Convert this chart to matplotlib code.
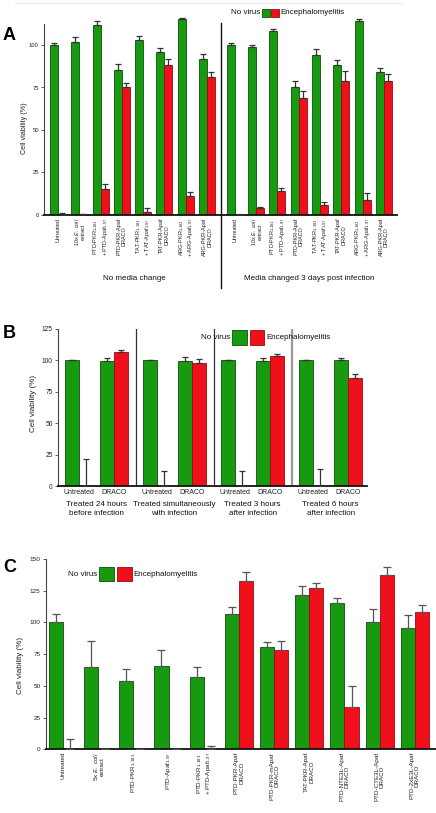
import numpy as np
import matplotlib
matplotlib.use("Agg")
import matplotlib.pyplot as plt
from matplotlib.patches import Rectangle
from matplotlib.lines import Line2D
import matplotlib.transforms as mtrans

plt.rcParams['font.family'] = ['Liberation Sans', 'DejaVu Sans']
plt.rcParams['mathtext.fontset'] = 'custom'
plt.rcParams['mathtext.rm'] = 'Liberation Sans'
plt.rcParams['mathtext.it'] = 'Liberation Sans:italic'
plt.rcParams['mathtext.bf'] = 'Liberation Sans:bold'

# ---------------- data ----------------
A_labels_half = ["Untreated", "10x $\\it{E.\\ coli}$\nextract",
                 "PTD-PKR$_{1\\text{-}181}$\n+ PTD-Apaf$_{1\\text{-}97}$", "PTD-PKR-Apaf\nDRACO",
                 "TAT-PKR$_{1\\text{-}181}$\n+ TAT-Apaf$_{1\\text{-}97}$", "TAT-PKR-Apaf\nDRACO",
                 "ARG-PKR$_{1\\text{-}181}$\n+ ARG-Apaf$_{1\\text{-}97}$", "ARG-PKR-Apaf\nDRACO"]
A_labels = A_labels_half + A_labels_half
A_green = [100, 102, 112, 85, 103, 96, 115, 92, 100, 99, 108, 75, 94, 88, 114, 84]
A_green_err = [1.2, 2.7, 2.2, 4.1, 2.4, 2.2, 0.6, 2.9, 1.0, 1.0, 1.6, 3.9, 3.9, 3.3, 1.4, 2.7]
A_red = [0, 0.3, 15, 75, 2, 88, 11, 81, 0, 3.9, 13.9, 69, 5.9, 79, 8.8, 79]
A_red_err = [1.4, 0.5, 3.5, 2.5, 2.2, 3.9, 2.4, 3.3, 0.8, 1.0, 1.8, 4.1, 2.0, 5.5, 3.9, 3.7]
A_sections = ["No media change", "Media changed 3 days post infection"]

B_labels = ["Untreated", "DRACO"] * 4
B_conditions = ["Treated 24 hours\nbefore infection", "Treated simultaneously\nwith infection",
                "Treated 3 hours\nafter infection", "Treated 6 hours\nafter infection"]
B_green = [100, 99, 100, 99.5, 100, 99.5, 100, 100.3]
B_green_err = [0.5, 2.4, 0.5, 3.0, 0.5, 2.2, 0.5, 1.6]
B_red = [0, 106.6, 0, 97.4, 0, 103.7, 0, 86.2]
B_red_err = [21.2, 1.1, 11.6, 3.4, 12.2, 1.3, 13.5, 2.9]

C_labels = ["Untreated", "5x $\\it{E.\\ coli}$\nextract", "PTD-PKR$_{1\\text{-}181}$",
            "PTD-Apaf$_{1\\text{-}97}$", "PTD-PKR$_{1\\text{-}181}$\n+ PTD-Apaf$_{1\\text{-}97}$",
            "PTD-PKR-Apaf\nDRACO", "PTD-PKR-mApaf\nDRACO", "TAT-PKR-Apaf\nDRACO",
            "PTD-NTE3L-Apaf\nDRACO", "PTD-CTE3L-Apaf\nDRACO", "PTD-2xE3L-Apaf\nDRACO"]
C_green = [100, 65, 54, 66, 57, 107, 81, 121.5, 115, 100, 95.5]
C_green_err = [6.8, 20, 9.5, 12, 7.6, 5.3, 3.2, 7.4, 4.5, 10.3, 10.5]
C_red = [0, 0.5, 0.5, 0.5, 0, 132.6, 78, 127.4, 33, 137.4, 108]
C_red_err = [7.9, 0, 0, 0, 2.9, 7.1, 7.6, 3.7, 16.6, 6.6, 5.5]

legend_labels = ["No virus", "Encephalomyelitis"]

# ---------------- style ----------------
GREEN = '#179a10'
GREEN_E = '#0b4f08'
RED = '#f0101c'
RED_E = '#9a0a10'
W, H = 436, 813
fig = plt.figure(figsize=(W / 100, H / 100), dpi=100)


def rect(l, r, b, t):
    return [l / W, 1 - b / H, (r - l) / W, (b - t) / H]


def fx(x):
    return x / W


def fy(y):
    return 1 - y / H


def style_axes(ax, ylabsize, ticklen):
    for s in ['top', 'right']:
        ax.spines[s].set_visible(False)
    ax.spines['left'].set_color('#444444')
    ax.spines['left'].set_linewidth(0.8)
    ax.spines['bottom'].set_color('#111111')
    ax.spines['bottom'].set_linewidth(1.3)
    ax.tick_params(axis='y', length=ticklen, width=0.6, color='#444444',
                   labelsize=ylabsize, pad=1.5, labelcolor='#222222')
    ax.tick_params(axis='x', length=0, pad=2)


def legend(xtext_right, ycen, box, gap, fs):
    fig.text(fx(xtext_right), fy(ycen), legend_labels[0], ha='right', va='center',
             fontsize=fs, color='#111111')
    x0 = xtext_right + 2
    fig.patches.append(Rectangle((fx(x0), fy(ycen + box / 2)), box / W, box / H,
                                 transform=fig.transFigure, facecolor=GREEN,
                                 edgecolor=GREEN_E, lw=0.6))
    x1 = x0 + box + gap
    fig.patches.append(Rectangle((fx(x1), fy(ycen + box / 2)), box / W, box / H,
                                 transform=fig.transFigure, facecolor=RED,
                                 edgecolor=RED_E, lw=0.6))
    fig.text(fx(x1 + box + 2), fy(ycen), legend_labels[1], ha='left', va='center',
             fontsize=fs, color='#111111')


def bars(ax, pos, g, ge, r, re, width, cap, ecol):
    pos = np.asarray(pos, dtype=float)
    gx = pos - width / 2
    rx = pos + width / 2
    ax.bar(gx, g, width, color=GREEN, edgecolor=GREEN_E, linewidth=0.6, zorder=2)
    ax.bar(rx, r, width, color=RED, edgecolor=RED_E, linewidth=0.6, zorder=2)
    ax.errorbar(gx, g, yerr=[np.zeros(len(g)), ge], fmt='none', ecolor=ecol,
                elinewidth=0.9, capsize=cap, capthick=0.9, zorder=3)
    ax.errorbar(rx, r, yerr=[np.zeros(len(r)), re], fmt='none', ecolor=ecol,
                elinewidth=0.9, capsize=cap, capthick=0.9, zorder=3)


# faint top line
fig.add_artist(Line2D([fx(15), fx(402)], [fy(3), fy(3)], color='#e6e6e6', lw=0.8))

# ---------------- Panel A ----------------
axA = fig.add_axes(rect(44, 397, 215, 215 - 117.5 * 1.7))
posA = list(np.arange(8)) + list(np.arange(8) + 8.31)
bars(axA, posA, A_green, A_green_err, A_red, A_red_err, 0.375, 2.0, '#333333')
axA.set_xlim(-0.66, 15.31 + 0.62)
axA.set_ylim(0, 117.5)
style_axes(axA, 4.2, 2.2)
axA.spines['left'].set_bounds(0, 112.4)
axA.set_yticks([0, 25, 50, 75, 100])
axA.set_xticks(posA)
axA.set_xticklabels(A_labels, rotation=90, fontsize=4.0, ha='center', va='top',
                    multialignment='center', color='#222222', linespacing=1.05)
axA.axvline(7.655, ymin=-0.367, ymax=0.96, color='#111111', lw=1.0, clip_on=False)
fig.text(fx(134), fy(279), A_sections[0], ha='center', va='center', fontsize=5.8, color='#111111')
fig.text(fx(309), fy(279), A_sections[1], ha='center', va='center', fontsize=5.8, color='#111111')
fig.text(fx(24), fy(128), "Cell viability (%)", rotation=90, ha='center', va='center',
         fontsize=5.2, color='#222222')
fig.text(fx(3), fy(36), "A", ha='left', va='center', fontsize=13, fontweight='bold')
legend(260, 13, 7.5, 1.5, 5.8)

# ---------------- Panel B ----------------
axB = fig.add_axes(rect(58, 367, 486, 328.7))
step = 2.23
posB = []
for k in range(4):
    posB += [step * k, step * k + 1]
bars(axB, posB, B_green, B_green_err, B_red, B_red_err, 0.4, 2.3, '#333333')
axB.set_xlim(-0.6, 3 * step + 1 + 0.54)
axB.set_ylim(0, 125)
style_axes(axB, 4.8, 2.2)
axB.set_yticks([0, 25, 50, 75, 100, 125])
axB.set_xticks(posB)
axB.set_xticklabels(B_labels, fontsize=5.0, color='#222222')
for k in range(3):
    xd = step * k + 1.615
    col = '#333333' if k < 2 else '#9a9a9a'
    lw = 0.9 if k < 2 else 1.6
    axB.axvline(xd, ymin=0, ymax=1, color=col, lw=lw, zorder=1)
trB = mtrans.blended_transform_factory(axB.transData, fig.transFigure)
for k in range(4):
    axB.text(step * k + 0.5, fy(509), B_conditions[k], transform=trB, ha='center',
             va='center', fontsize=5.8, color='#111111', linespacing=1.25)
fig.text(fx(33), fy(403), "Cell viability (%)", rotation=90, ha='center', va='center',
         fontsize=5.8, color='#222222')
fig.text(fx(3), fy(333), "B", ha='left', va='center', fontsize=13, fontweight='bold')
legend(230, 337.5, 14.5, 3, 5.8)

# ---------------- Panel C ----------------
axC = fig.add_axes(rect(45.7, 436, 749.3, 559))
posC = np.arange(11)
bars(axC, posC, C_green, C_green_err, C_red, C_red_err, 0.4, 2.6, '#555555')
axC.set_xlim(-0.49, 10.6)
axC.set_ylim(0, 150)
style_axes(axC, 4.6, 2.2)
axC.set_yticks([0, 25, 50, 75, 100, 125, 150])
axC.set_xticks(posC)
axC.set_xticklabels(C_labels, rotation=90, fontsize=4.5, ha='center', va='top',
                    multialignment='center', color='#222222', linespacing=1.05)
fig.text(fx(20), fy(665), "Cell viability (%)", rotation=90, ha='center', va='center',
         fontsize=5.8, color='#222222')
fig.text(fx(3), fy(567), "C", ha='left', va='center', fontsize=13, fontweight='bold')
legend(97, 574, 14.5, 3.5, 5.8)

fig.savefig("out.png", dpi=100)
